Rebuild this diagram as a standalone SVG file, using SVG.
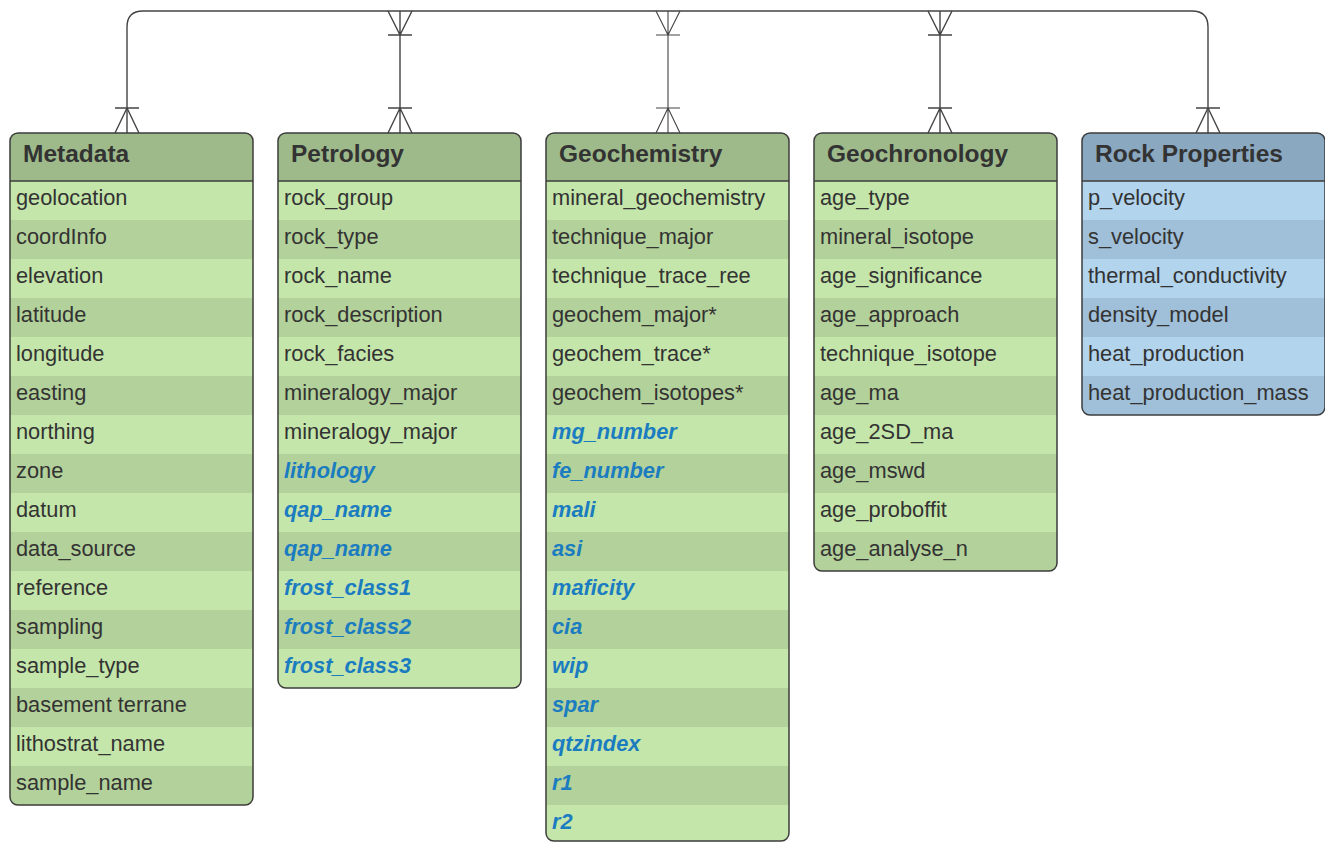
<svg xmlns="http://www.w3.org/2000/svg" width="1325" height="842" viewBox="0 0 1325 842">
<style>
.h{font-family:"Liberation Sans",Arial,sans-serif;font-weight:bold;font-size:24.5px;fill:#333}
.f{font-family:"Liberation Sans",Arial,sans-serif;font-size:21.8px;fill:#333}
.b{font-family:"Liberation Sans",Arial,sans-serif;font-size:21.8px;font-weight:bold;font-style:italic;fill:#1b7cc0}
.gh{fill:#9eba8a}.gl{fill:#c5e6aa}.gd{fill:#b3d19a}
.bh{fill:#8aa8c0}.bl{fill:#b2d4ec}.bd{fill:#a0bfd8}
.bord{fill:none;stroke:#3c3c3c;stroke-width:1.5}
.div{stroke:#3c3c3c;stroke-width:1.5}
.c{fill:none;stroke:#444;stroke-width:1.4}
</style>
<defs>
<clipPath id="c1"><rect x="10" y="133" width="243" height="672" rx="8"/></clipPath>
<clipPath id="c2"><rect x="278" y="133" width="243" height="555" rx="8"/></clipPath>
<clipPath id="c3"><rect x="546" y="133" width="243" height="708" rx="8"/></clipPath>
<clipPath id="c4"><rect x="814" y="133" width="243" height="438" rx="8"/></clipPath>
<clipPath id="c5"><rect x="1082" y="133" width="243" height="282" rx="8"/></clipPath>
</defs>

<g id="connectors">
<path class="c" d="M127 133 V27 Q127 11 143 11 H1192 Q1208 11 1208 27 V133"/>
<path class="c" d="M115 108 H139 M127 108 L115 133 M127 108 L139 133"/>
<path class="c" d="M1196 108 H1220 M1208 108 L1196 133 M1208 108 L1220 133"/>
<path class="c" d="M400 11 V133 M388 35 H412 M388 11 L400 35 L412 11 M388 108 H412 M388 133 L400 108 L412 133"/>
<path class="c" d="M668 11 V133 M656 35 H680 M656 11 L668 35 L680 11 M656 108 H680 M656 133 L668 108 L680 133" style="stroke-width:1.1"/>
<path class="c" d="M940 11 V133 M928 35 H952 M928 11 L940 35 L952 11 M928 108 H952 M928 133 L940 108 L952 133"/>
</g>

<g id="metadata">
<g clip-path="url(#c1)">
<rect class="gl" x="10" y="133" width="243" height="672"/>
<rect class="gh" x="10" y="133" width="243" height="48"/>
<rect class="gd" x="10" y="220" width="243" height="39"/>
<rect class="gd" x="10" y="298" width="243" height="39"/>
<rect class="gd" x="10" y="376" width="243" height="39"/>
<rect class="gd" x="10" y="454" width="243" height="39"/>
<rect class="gd" x="10" y="532" width="243" height="39"/>
<rect class="gd" x="10" y="610" width="243" height="39"/>
<rect class="gd" x="10" y="688" width="243" height="39"/>
<rect class="gd" x="10" y="766" width="243" height="39"/>
</g>
<line class="div" x1="10" y1="181" x2="253" y2="181"/>
<rect class="bord" x="10" y="133" width="243" height="672" rx="8"/>
<text class="h" x="23" y="162">Metadata</text>
<text class="f" x="16" y="205">geolocation</text>
<text class="f" x="16" y="244">coordInfo</text>
<text class="f" x="16" y="283">elevation</text>
<text class="f" x="16" y="322">latitude</text>
<text class="f" x="16" y="361">longitude</text>
<text class="f" x="16" y="400">easting</text>
<text class="f" x="16" y="439">northing</text>
<text class="f" x="16" y="478">zone</text>
<text class="f" x="16" y="517">datum</text>
<text class="f" x="16" y="556">data_source</text>
<text class="f" x="16" y="595">reference</text>
<text class="f" x="16" y="634">sampling</text>
<text class="f" x="16" y="673">sample_type</text>
<text class="f" x="16" y="712">basement terrane</text>
<text class="f" x="16" y="751">lithostrat_name</text>
<text class="f" x="16" y="790">sample_name</text>
</g>

<g id="petrology">
<g clip-path="url(#c2)">
<rect class="gl" x="278" y="133" width="243" height="555"/>
<rect class="gh" x="278" y="133" width="243" height="48"/>
<rect class="gd" x="278" y="220" width="243" height="39"/>
<rect class="gd" x="278" y="298" width="243" height="39"/>
<rect class="gd" x="278" y="376" width="243" height="39"/>
<rect class="gd" x="278" y="454" width="243" height="39"/>
<rect class="gd" x="278" y="532" width="243" height="39"/>
<rect class="gd" x="278" y="610" width="243" height="39"/>
</g>
<line class="div" x1="278" y1="181" x2="521" y2="181"/>
<rect class="bord" x="278" y="133" width="243" height="555" rx="8"/>
<text class="h" x="291" y="162">Petrology</text>
<text class="f" x="284" y="205">rock_group</text>
<text class="f" x="284" y="244">rock_type</text>
<text class="f" x="284" y="283">rock_name</text>
<text class="f" x="284" y="322">rock_description</text>
<text class="f" x="284" y="361">rock_facies</text>
<text class="f" x="284" y="400">mineralogy_major</text>
<text class="f" x="284" y="439">mineralogy_major</text>
<text class="b" x="284" y="478">lithology</text>
<text class="b" x="284" y="517">qap_name</text>
<text class="b" x="284" y="556">qap_name</text>
<text class="b" x="284" y="595">frost_class1</text>
<text class="b" x="284" y="634">frost_class2</text>
<text class="b" x="284" y="673">frost_class3</text>
</g>

<g id="geochemistry">
<g clip-path="url(#c3)">
<rect class="gl" x="546" y="133" width="243" height="708"/>
<rect class="gh" x="546" y="133" width="243" height="48"/>
<rect class="gd" x="546" y="220" width="243" height="39"/>
<rect class="gd" x="546" y="298" width="243" height="39"/>
<rect class="gd" x="546" y="376" width="243" height="39"/>
<rect class="gd" x="546" y="454" width="243" height="39"/>
<rect class="gd" x="546" y="532" width="243" height="39"/>
<rect class="gd" x="546" y="610" width="243" height="39"/>
<rect class="gd" x="546" y="688" width="243" height="39"/>
<rect class="gd" x="546" y="766" width="243" height="39"/>
</g>
<line class="div" x1="546" y1="181" x2="789" y2="181"/>
<rect class="bord" x="546" y="133" width="243" height="708" rx="8"/>
<text class="h" x="559" y="162">Geochemistry</text>
<text class="f" x="552" y="205">mineral_geochemistry</text>
<text class="f" x="552" y="244">technique_major</text>
<text class="f" x="552" y="283">technique_trace_ree</text>
<text class="f" x="552" y="322">geochem_major*</text>
<text class="f" x="552" y="361">geochem_trace*</text>
<text class="f" x="552" y="400">geochem_isotopes*</text>
<text class="b" x="552" y="439">mg_number</text>
<text class="b" x="552" y="478">fe_number</text>
<text class="b" x="552" y="517">mali</text>
<text class="b" x="552" y="556">asi</text>
<text class="b" x="552" y="595">maficity</text>
<text class="b" x="552" y="634">cia</text>
<text class="b" x="552" y="673">wip</text>
<text class="b" x="552" y="712">spar</text>
<text class="b" x="552" y="751">qtzindex</text>
<text class="b" x="552" y="790">r1</text>
<text class="b" x="552" y="829">r2</text>
</g>

<g id="geochronology">
<g clip-path="url(#c4)">
<rect class="gl" x="814" y="133" width="243" height="438"/>
<rect class="gh" x="814" y="133" width="243" height="48"/>
<rect class="gd" x="814" y="220" width="243" height="39"/>
<rect class="gd" x="814" y="298" width="243" height="39"/>
<rect class="gd" x="814" y="376" width="243" height="39"/>
<rect class="gd" x="814" y="454" width="243" height="39"/>
<rect class="gd" x="814" y="532" width="243" height="39"/>
</g>
<line class="div" x1="814" y1="181" x2="1057" y2="181"/>
<rect class="bord" x="814" y="133" width="243" height="438" rx="8"/>
<text class="h" x="827" y="162">Geochronology</text>
<text class="f" x="820" y="205">age_type</text>
<text class="f" x="820" y="244">mineral_isotope</text>
<text class="f" x="820" y="283">age_significance</text>
<text class="f" x="820" y="322">age_approach</text>
<text class="f" x="820" y="361">technique_isotope</text>
<text class="f" x="820" y="400">age_ma</text>
<text class="f" x="820" y="439">age_2SD_ma</text>
<text class="f" x="820" y="478">age_mswd</text>
<text class="f" x="820" y="517">age_proboffit</text>
<text class="f" x="820" y="556">age_analyse_n</text>
</g>

<g id="rock-properties">
<g clip-path="url(#c5)">
<rect class="bl" x="1082" y="133" width="243" height="282"/>
<rect class="bh" x="1082" y="133" width="243" height="48"/>
<rect class="bd" x="1082" y="220" width="243" height="39"/>
<rect class="bd" x="1082" y="298" width="243" height="39"/>
<rect class="bd" x="1082" y="376" width="243" height="39"/>
</g>
<line class="div" x1="1082" y1="181" x2="1325" y2="181"/>
<rect class="bord" x="1082" y="133" width="243" height="282" rx="8"/>
<text class="h" x="1095" y="162">Rock Properties</text>
<text class="f" x="1088" y="205">p_velocity</text>
<text class="f" x="1088" y="244">s_velocity</text>
<text class="f" x="1088" y="283">thermal_conductivity</text>
<text class="f" x="1088" y="322">density_model</text>
<text class="f" x="1088" y="361">heat_production</text>
<text class="f" x="1088" y="400">heat_production_mass</text>
</g>
</svg>
